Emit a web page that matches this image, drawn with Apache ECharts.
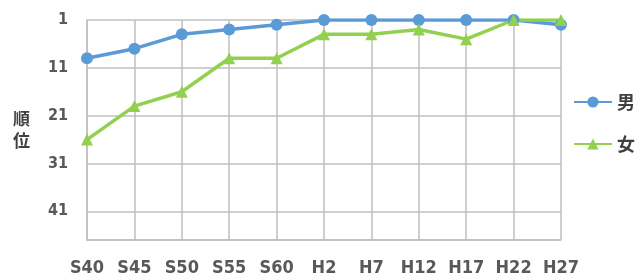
<!DOCTYPE html>
<html>
<head>
<meta charset="utf-8">
<script src="https://cdn.jsdelivr.net/npm/echarts@6/dist/echarts.min.js"></script>
<style>
  html, body { margin: 0; padding: 0; background: #fff; }
  #chart { width: 638px; height: 279px; }
</style>
</head>
<body>
<div id="chart"></div>
<script>
// 年次（昭和・平成）
const years = ['S40', 'S45', 'S50', 'S55', 'S60', 'H2', 'H7', 'H12', 'H17', 'H22', 'H27'];
// 順位
const maleRank = [9, 7, 4, 3, 2, 1, 1, 1, 1, 1, 2];
const femaleRank = [26, 19, 16, 9, 9, 4, 4, 3, 5, 1, 1];

const labelFont = {
    color: '#595959',
    fontFamily: '"DejaVu Sans Condensed", "DejaVu Sans"',
    fontWeight: 'bold'
};

const chart = echarts.init(document.getElementById('chart'));
chart.setOption({
    animation: false,
    grid: { left: 87, right: 77, top: 20, bottom: 39, containLabel: false },
    legend: {
        orient: 'vertical',
        left: 568,
        top: 88,
        itemWidth: 38,
        itemHeight: 14,
        itemGap: 24,
        textStyle: { color: '#404040', fontFamily: 'Noto Sans CJK JP', fontWeight: 'bold', fontSize: 18 },
        data: ['男', '女']
    },
    xAxis: {
        type: 'category',
        data: years,
        boundaryGap: false,
        position: 'bottom',
        axisLine: { onZero: false, lineStyle: { color: '#bfbfbf', width: 1.5 } },
        axisTick: { show: false },
        splitLine: { show: true, lineStyle: { color: '#bfbfbf', width: 1.5 } },
        axisLabel: Object.assign({ margin: 19, fontSize: 18 }, labelFont)
    },
    yAxis: {
        type: 'value',
        inverse: true,
        min: 1,
        max: 47,
        interval: 10,
        name: '順\n位',
        nameLocation: 'middle',
        nameRotate: 0,
        nameGap: 57,
        nameTextStyle: { color: '#404040', fontFamily: 'Noto Sans CJK JP', fontWeight: 'bold', fontSize: 17, lineHeight: 22 },
        axisLine: { show: true, lineStyle: { color: '#bfbfbf', width: 1.5 } },
        axisTick: { show: false },
        splitLine: { show: true, lineStyle: { color: '#bfbfbf', width: 1.5 } },
        axisLabel: Object.assign({ margin: 19, fontSize: 16, showMaxLabel: false }, labelFont)
    },
    series: [
        {
            name: '男',
            type: 'line',
            data: maleRank,
            symbol: 'circle',
            symbolSize: 12,
            itemStyle: { color: '#5b9bd5' },
            lineStyle: { color: '#5b9bd5', width: 3.5 }
        },
        {
            name: '女',
            type: 'line',
            data: femaleRank,
            symbol: 'triangle',
            symbolSize: 12,
            itemStyle: { color: '#92d050' },
            lineStyle: { color: '#92d050', width: 3.5 }
        }
    ]
});
</script>
</body>
</html>
